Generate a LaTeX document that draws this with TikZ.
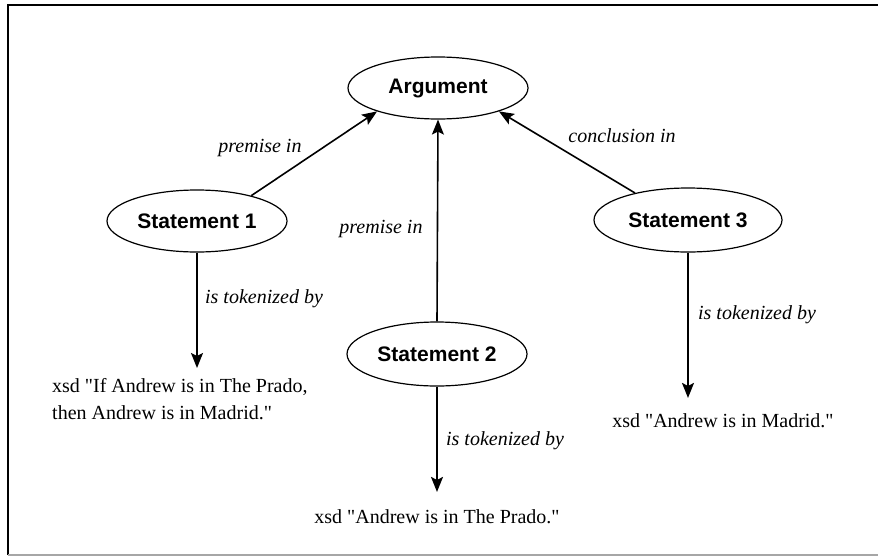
\documentclass[tikz,border=0pt]{standalone}
\usepackage{fontspec}
\setmainfont{Liberation Serif}[Ligatures=TeXOff]
\newfontfamily\hvfont{Liberation Sans}
\usetikzlibrary{shapes.geometric,arrows.meta}
\begin{document}
\begin{tikzpicture}[x=1pt,y=-1pt,
  ent/.style={ellipse,draw,line width=1.2pt,inner sep=0pt,minimum width=180pt,minimum height=62pt,
    font=\hvfont\bfseries\fontsize{21}{25}\selectfont},
  lab/.style={font=\itshape\fontsize{20}{24}\selectfont,anchor=base,inner sep=0pt},
  tok/.style={font=\fontsize{20}{27}\selectfont,inner sep=0pt},
  arr/.style={line width=1.6pt,-{Stealth[length=15pt,width=12pt,inset=3pt]}}]
\useasboundingbox (0,0) rectangle (878,557);
% frame
\draw[line width=2pt] (8,555) -- (8,5) -- (878,5);
\draw[line width=1.5pt,black!35] (8,555) -- (878,555);
% entities
\node[ent] (arg) at (438,88) {Argument};
\node[ent] (s1) at (197,221) {Statement 1};
\node[ent,minimum height=64pt] (s2) at (437,354) {Statement 2};
\node[ent,minimum width=188pt,minimum height=64pt] (s3) at (688,220) {Statement 3};
% literals
\node[tok,align=left,anchor=north west] (t1) at (52,378) {xsd "If Andrew is in The Prado,\\then Andrew is in Madrid."};
\node[tok,anchor=base] (t2) at (437,523) {xsd "Andrew is in The Prado."};
\node[tok,anchor=base] (t3) at (723,427) {xsd "Andrew is in Madrid."};
% connectors
\draw[arr] (s1.25) -- (arg.201.6);
\draw[arr] (s2.north) -- (arg.south);
\draw[arr] (s3.153) -- (arg.-21);
\draw[arr,shorten >=10pt] (s1.south) -- (s1.south |- t1.north);
\draw[arr,shorten >=17pt] (s2.south) -- (s2.south |- t2.north);
\draw[arr,shorten >=15pt] (s3.south) -- (s3.south |- t3.north);
% labels
\node[lab] (l1) at (260,152) {premise in};
\node[lab] (l2) at (381,233) {premise in};
\node[lab] (l3) at (622,142) {conclusion in};
\node[lab] (l4) at (264,303) {is tokenized by};
\node[lab] (l5) at (505,445) {is tokenized by};
\node[lab] (l6) at (757,319) {is tokenized by};
\end{tikzpicture}
\end{document}
